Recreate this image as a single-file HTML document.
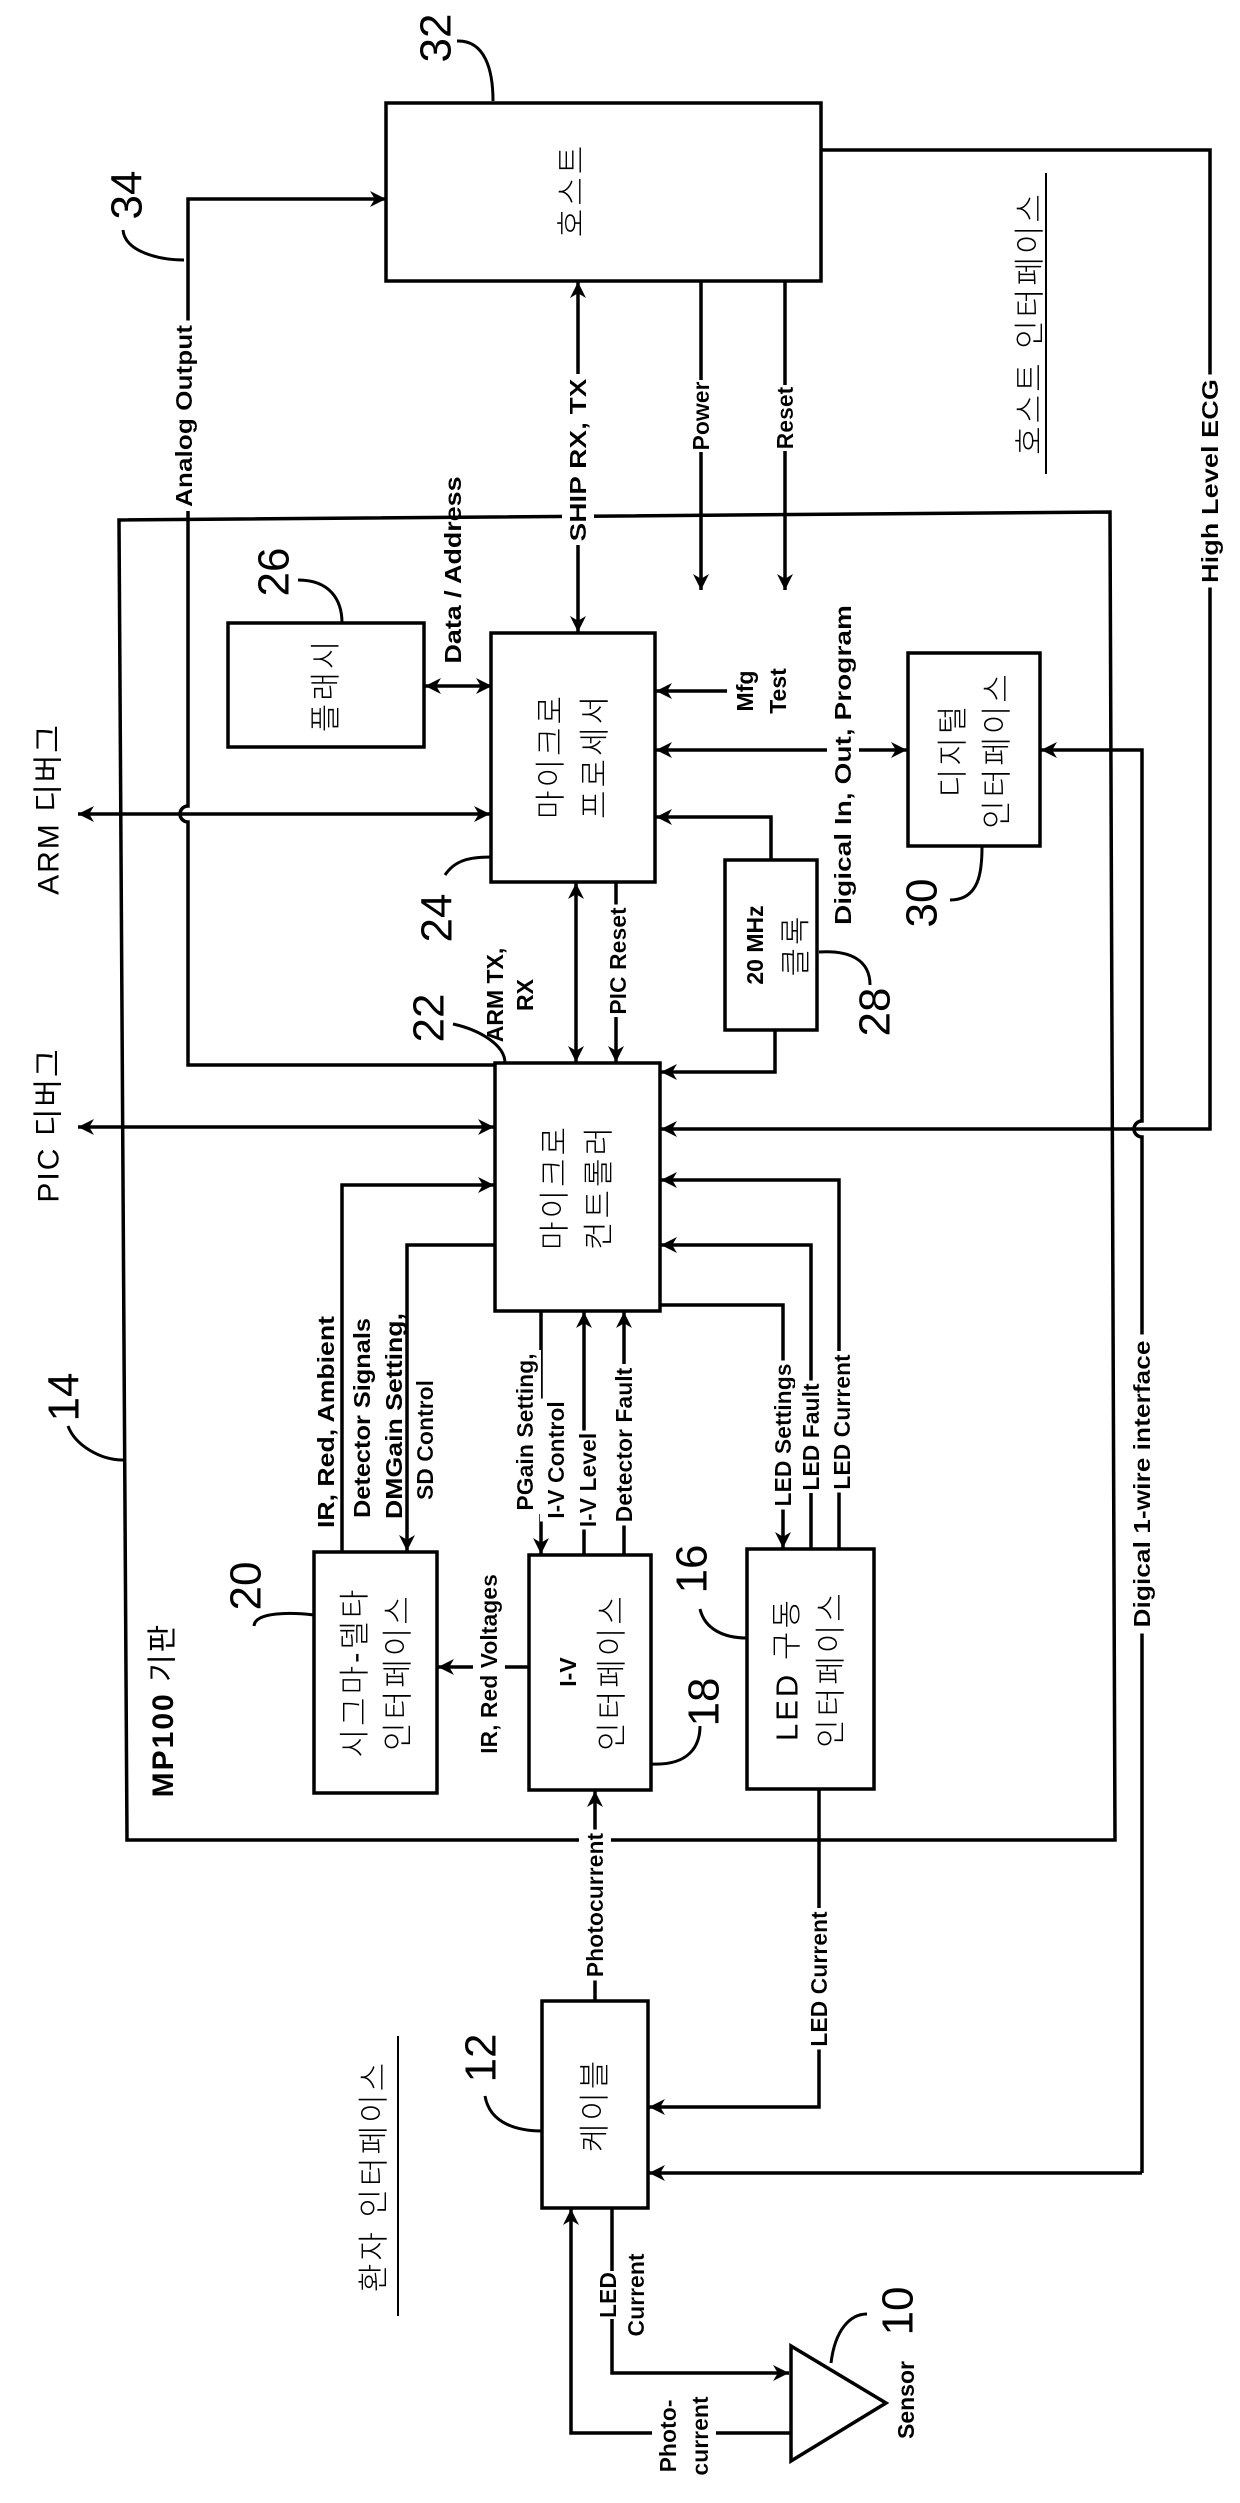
<!DOCTYPE html>
<html><head><meta charset="utf-8">
<style>
html,body{margin:0;padding:0;background:#fff;}
svg{display:block;}
.b{font-family:"Liberation Sans",sans-serif;font-weight:bold;font-size:23px;fill:#000;}
.h{filter:url(#bg);}
.k{font-family:"Liberation Sans","Noto Sans CJK KR","NanumGothic",sans-serif;font-size:31px;fill:#000;font-weight:300;letter-spacing:3px;}
.n{font-family:"Liberation Sans",sans-serif;font-size:44px;fill:#000;}
.d{font-family:"Liberation Sans","Noto Sans CJK KR",sans-serif;font-size:30px;fill:#000;letter-spacing:2px;}
</style></head>
<body>
<svg width="1240" height="2503" viewBox="0 0 1240 2503" xmlns="http://www.w3.org/2000/svg">
<defs>
<marker id="a" viewBox="0 0 10 10" refX="10" refY="5" markerWidth="16" markerHeight="16" markerUnits="userSpaceOnUse" orient="auto-start-reverse">
<path d="M0,0 L10,5 L0,10 L3,5 z" fill="#000"/>
</marker>
<filter id="bg" x="-0.02" y="-0.1" width="1.04" height="1.2"><feFlood flood-color="#fff"/><feComposite in="SourceGraphic" operator="over"/></filter>
</defs>
<g fill="none" stroke="#000" stroke-width="3.5">
<rect x="386" y="103" width="435" height="178"/>
<path d="M457,41 C485,40 493,70 493,101" stroke-width="3"/>
<path d="M123,230 C125,252 160,260 184,260" stroke-width="3"/>
<path d="M495,1065 H188 V822 a8,8 0 0 1 0,-16 V199 H386" marker-end="url(#a)"/>
<polygon points="119,520 1110,512 1115,1840 127,1840"/>
<line x1="578" y1="282" x2="578" y2="632" marker-start="url(#a)" marker-end="url(#a)"/>
<line x1="701" y1="282" x2="701" y2="590" marker-end="url(#a)"/>
<line x1="785" y1="282" x2="785" y2="590" marker-end="url(#a)"/>
<path d="M821,150 H1210 V1129 H661" marker-end="url(#a)"/>
<line x1="1046" y1="173" x2="1046" y2="474" stroke-width="2"/>
<rect x="228" y="623" width="196" height="124"/>
<path d="M298,580 C330,580 342,600 342,623" stroke-width="3"/>
<line x1="425" y1="686" x2="492" y2="686" marker-start="url(#a)" marker-end="url(#a)"/>
<rect x="491" y="633" width="164" height="249"/>
<line x1="727" y1="691" x2="656" y2="691" marker-end="url(#a)"/>
<line x1="656" y1="750" x2="907" y2="750" marker-start="url(#a)" marker-end="url(#a)"/>
<rect x="908" y="653" width="132" height="193"/>
<path d="M1142,2173 V1137 a8,8 0 0 1 0,-16 V750 H1041" marker-end="url(#a)"/>
<path d="M1142,2173 H649" marker-end="url(#a)"/>
<path d="M950,900 C980,900 982,870 982,847" stroke-width="3"/>
<line x1="78" y1="814" x2="490" y2="814" marker-start="url(#a)" marker-end="url(#a)"/>
<path d="M445,875 C455,860 470,857 491,857" stroke-width="3"/>
<line x1="576" y1="883" x2="576" y2="1062" marker-start="url(#a)" marker-end="url(#a)"/>
<line x1="616" y1="883" x2="616" y2="1062" marker-end="url(#a)"/>
<path d="M453,1024 C480,1030 505,1045 505,1063" stroke-width="3"/>
<rect x="725" y="860" width="92" height="170"/>
<path d="M771,860 V817 H656" marker-end="url(#a)"/>
<path d="M775,1030 V1072 H661" marker-end="url(#a)"/>
<path d="M819,952 C850,950 870,960 870,985" stroke-width="3"/>
<rect x="495" y="1063" width="165" height="248"/>
<line x1="78" y1="1127" x2="494" y2="1127" marker-start="url(#a)" marker-end="url(#a)"/>
<path d="M342,1552 V1185 H494" marker-end="url(#a)"/>
<path d="M495,1245 H407 V1551" marker-end="url(#a)"/>
<rect x="314" y="1552" width="123" height="241"/>
<path d="M254,1626 C255,1612 290,1612 314,1615" stroke-width="3"/>
<rect x="529" y="1555" width="122" height="235"/>
<line x1="541" y1="1311" x2="541" y2="1554" marker-end="url(#a)"/>
<line x1="584" y1="1555" x2="584" y2="1312" marker-end="url(#a)"/>
<line x1="624" y1="1555" x2="624" y2="1312" marker-end="url(#a)"/>
<line x1="529" y1="1667" x2="438" y2="1667" marker-end="url(#a)"/>
<rect x="747" y="1549" width="127" height="240"/>
<path d="M660,1305 H783 V1548" marker-end="url(#a)"/>
<path d="M811,1549 V1245 H661" marker-end="url(#a)"/>
<path d="M839,1549 V1180 H661" marker-end="url(#a)"/>
<path d="M700,1609 C705,1630 725,1638 747,1638" stroke-width="3"/>
<path d="M68,1426 C75,1445 100,1460 123,1460" stroke-width="3"/>
<path d="M651,1764 C690,1766 700,1745 700,1726" stroke-width="3"/>
<line x1="595" y1="2001" x2="595" y2="1791" marker-end="url(#a)"/>
<path d="M819,1789 V2107 H649" marker-end="url(#a)"/>
<rect x="542" y="2001" width="106" height="207"/>
<path d="M485,2096 C490,2125 520,2131 542,2131" stroke-width="3"/>
<line x1="398" y1="2036" x2="398" y2="2316" stroke-width="2"/>
<path d="M791,2433 H571 V2209" marker-end="url(#a)"/>
<path d="M612,2208 V2373 H789" marker-end="url(#a)"/>
<polygon points="791,2346 791,2461 886,2403"/>
<path d="M831,2363 C835,2330 850,2314 867,2314" stroke-width="3"/>
</g>

<g text-anchor="middle" dominant-baseline="central">
<text class="n" x="436" y="38" transform="rotate(-90 436 38)">32</text>
<text class="n" x="127" y="195" transform="rotate(-90 127 195)">34</text>
<text class="n" x="274" y="572" transform="rotate(-90 274 572)">26</text>
<text class="n" x="922" y="903" transform="rotate(-90 922 903)">30</text>
<text class="n" x="437" y="918" transform="rotate(-90 437 918)">24</text>
<text class="n" x="429" y="1018" transform="rotate(-90 429 1018)">22</text>
<text class="n" x="875" y="1012" transform="rotate(-90 875 1012)">28</text>
<text class="n" x="64" y="1397" transform="rotate(-90 64 1397)">14</text>
<text class="n" x="246" y="1586" transform="rotate(-90 246 1586)">20</text>
<text class="n" x="692" y="1569" transform="rotate(-90 692 1569)">16</text>
<text class="n" x="704" y="1702" transform="rotate(-90 704 1702)">18</text>
<text class="n" x="481" y="2058" transform="rotate(-90 481 2058)">12</text>
<text class="n" x="898" y="2311" transform="rotate(-90 898 2311)">10</text>

<text class="k" x="572" y="190" transform="rotate(-90 572 190)">호스트</text>
<text class="k" x="1030" y="323" transform="rotate(-90 1030 323)">호스트 인터페이스</text>
<text class="k" x="326" y="685" transform="rotate(-90 326 685)">플래시</text>
<text class="k" x="551" y="756" transform="rotate(-90 551 756)">마이크로</text>
<text class="k" x="595" y="756" transform="rotate(-90 595 756)">프로세서</text>
<text class="k" x="953" y="750" transform="rotate(-90 953 750)">디지털</text>
<text class="k" x="997" y="750" transform="rotate(-90 997 750)">인터페이스</text>
<text class="d" x="49" y="809" transform="rotate(-90 49 809)">ARM 디버그</text>
<text class="d" x="49" y="1125" transform="rotate(-90 49 1125)">PIC 디버그</text>
<text class="b" x="755" y="945" font-size="27" transform="rotate(-90 755 945)">20 MHz</text>
<text class="k" x="796" y="945" transform="rotate(-90 796 945)">클록</text>
<text class="k" x="555" y="1187" transform="rotate(-90 555 1187)">마이크로</text>
<text class="k" x="599" y="1187" transform="rotate(-90 599 1187)">컨트롤러</text>
<text class="k" x="355" y="1672" transform="rotate(-90 355 1672)">시그마-델타</text>
<text class="k" x="398" y="1672" transform="rotate(-90 398 1672)">인터페이스</text>
<text class="b" x="568" y="1672" font-size="30" transform="rotate(-90 568 1672)">I-V</text>
<text class="k" x="612" y="1672" transform="rotate(-90 612 1672)">인터페이스</text>
<text class="k" x="787" y="1669" transform="rotate(-90 787 1669)">LED 구동</text>
<text class="k" x="831" y="1669" transform="rotate(-90 831 1669)">인터페이스</text>
<text class="d" x="163" y="1710" transform="rotate(-90 163 1710)"><tspan font-weight="bold">MP100</tspan> 기판</text>
<text class="k" x="595" y="2105" transform="rotate(-90 595 2105)">케이블</text>
<text class="k" x="374" y="2176" transform="rotate(-90 374 2176)">환자 인터페이스</text>

<text class="b h" x="184" y="416" textLength="182" lengthAdjust="spacingAndGlyphs" transform="rotate(-90 184 416)">Analog Output</text>
<text class="b h" x="578" y="460" textLength="163" lengthAdjust="spacingAndGlyphs" transform="rotate(-90 578 460)">SHIP RX, TX</text>
<text class="b h" x="701" y="416" transform="rotate(-90 701 416)">Power</text>
<text class="b h" x="785" y="418" transform="rotate(-90 785 418)">Reset</text>
<text class="b h" x="1210" y="481" textLength="204" lengthAdjust="spacingAndGlyphs" transform="rotate(-90 1210 481)">High Level ECG</text>
<text class="b" x="453" y="570" textLength="187" lengthAdjust="spacingAndGlyphs" transform="rotate(-90 453 570)">Data / Address</text>
<text class="b" x="745" y="691" font-size="21" transform="rotate(-90 745 691)">Mfg</text>
<text class="b" x="778" y="691" font-size="21" transform="rotate(-90 778 691)">Test</text>
<text class="b h" x="843" y="765" textLength="320" lengthAdjust="spacingAndGlyphs" transform="rotate(-90 843 765)">Digical In, Out, Program</text>
<text class="b h" x="618" y="961" font-size="22" transform="rotate(-90 618 961)">PIC Reset</text>
<text class="b" x="495" y="995" font-size="20" transform="rotate(-90 495 995)">ARM TX,</text>
<text class="b" x="525" y="995" font-size="20" transform="rotate(-90 525 995)">RX</text>
<text class="b" x="326" y="1422" textLength="212" lengthAdjust="spacingAndGlyphs" transform="rotate(-90 326 1422)">IR, Red, Ambient</text>
<text class="b" x="362" y="1418" textLength="200" lengthAdjust="spacingAndGlyphs" transform="rotate(-90 362 1418)">Detector Signals</text>
<text class="b" x="394" y="1416" textLength="206" lengthAdjust="spacingAndGlyphs" transform="rotate(-90 394 1416)">DMGain Setting,</text>
<text class="b h" x="425" y="1440" transform="rotate(-90 425 1440)">SD Control</text>
<text class="b h" x="525" y="1432" transform="rotate(-90 525 1432)">PGain Setting,</text>
<text class="b h" x="556" y="1460" transform="rotate(-90 556 1460)">I-V Control</text>
<text class="b h" x="588" y="1480" transform="rotate(-90 588 1480)">I-V Level</text>
<text class="b h" x="624" y="1445" transform="rotate(-90 624 1445)">Detector Fault</text>
<text class="b h" x="783" y="1435" transform="rotate(-90 783 1435)">LED Settings</text>
<text class="b h" x="811" y="1437" transform="rotate(-90 811 1437)">LED Fault</text>
<text class="b h" x="842" y="1422" transform="rotate(-90 842 1422)">LED Current</text>
<text class="b h" x="1142" y="1484" textLength="287" lengthAdjust="spacingAndGlyphs" transform="rotate(-90 1142 1484)">Digical 1-wire interface</text>
<text class="b h" x="489" y="1664" transform="rotate(-90 489 1664)">IR, Red Voltages</text>
<text class="b h" x="595" y="1905" transform="rotate(-90 595 1905)">Photocurrent</text>
<text class="b h" x="819" y="1979" transform="rotate(-90 819 1979)">LED Current</text>
<text class="b h" x="668" y="2436" font-size="22" transform="rotate(-90 668 2436)">Photo-</text>
<text class="b h" x="700" y="2436" font-size="22" transform="rotate(-90 700 2436)">current</text>
<text class="b h" x="608" y="2295" font-size="22" transform="rotate(-90 608 2295)">LED</text>
<text class="b h" x="636" y="2295" font-size="22" transform="rotate(-90 636 2295)">Current</text>
<text class="b" x="906" y="2400" font-size="22" transform="rotate(-90 906 2400)">Sensor</text>
</g>
</svg>
</body></html>
